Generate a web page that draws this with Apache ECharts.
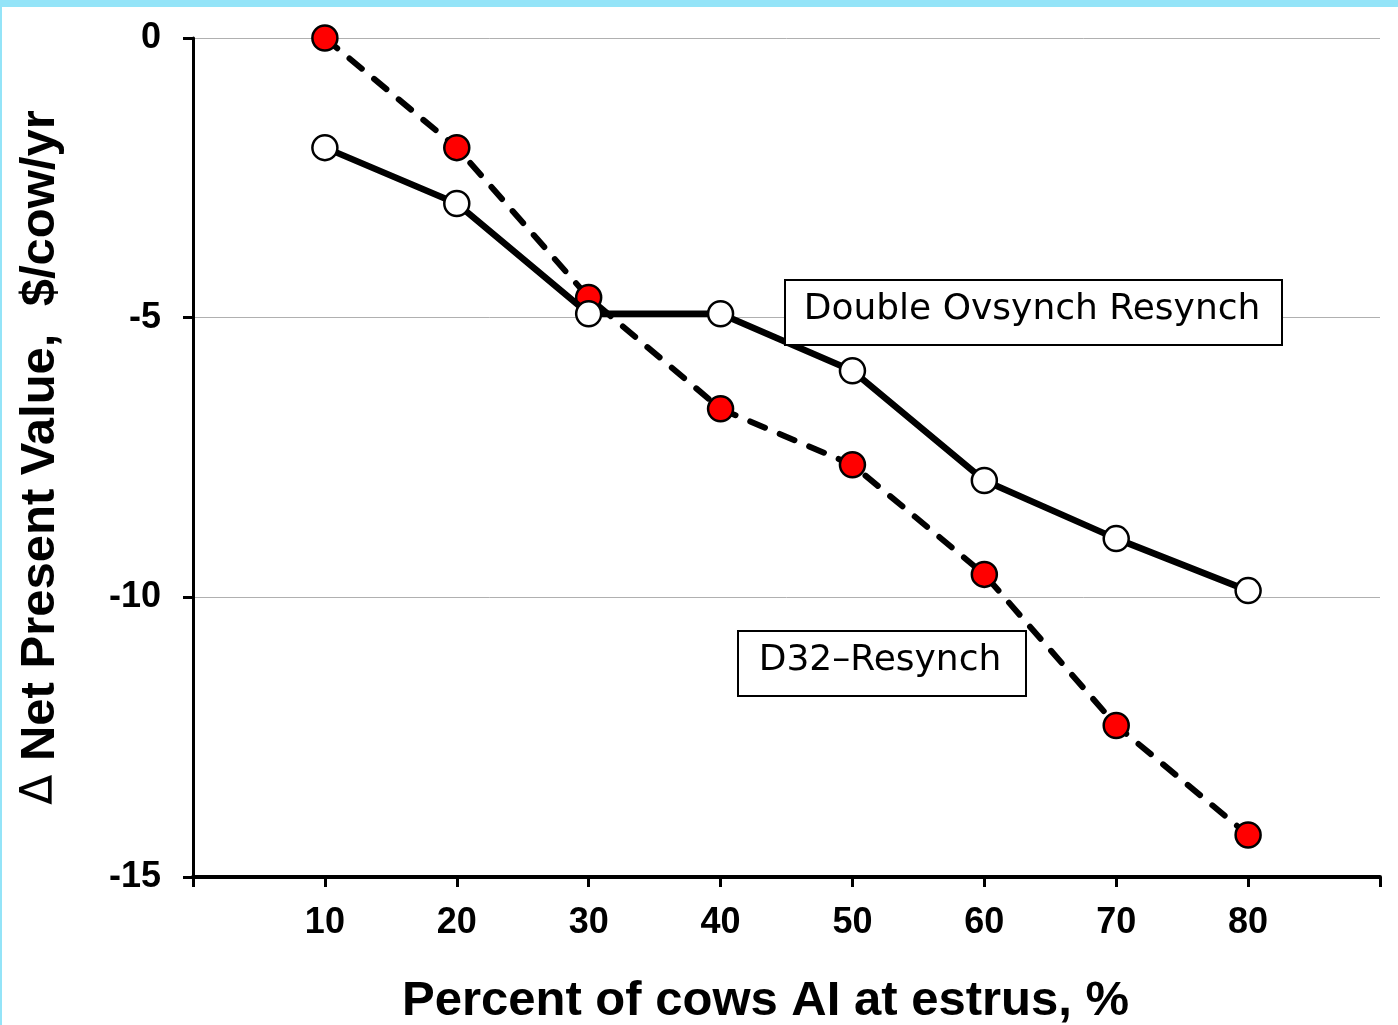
<!DOCTYPE html>
<html>
<head>
<meta charset="utf-8">
<script src="https://cdn.jsdelivr.net/npm/echarts@6/dist/echarts.min.js"></script>
<style>
html,body{margin:0;padding:0;background:#fff;}
#c{width:1398px;height:1025px;}
</style>
</head>
<body>
<div id="c"></div>
<script>
const xValues = [10, 20, 30, 40, 50, 60, 70, 80];
const doubleOvsynch = [-1.96, -2.96, -4.93, -4.93, -5.95, -7.91, -8.95, -9.88];
const d32Resynch = [0, -1.96, -4.64, -6.63, -7.63, -9.59, -12.29, -14.25];
const yTicks = [0, -5, -10, -15];

const chart = echarts.init(document.getElementById('c'));
const pair = (ys) => xValues.map((x, i) => [x, ys[i]]);
const axisFont = '"Liberation Sans", Arial, sans-serif';
const boxFont = '36px "DejaVu Sans", sans-serif';

chart.setOption({
  animation: false,
  backgroundColor: '#ffffff',
  grid: {left: 193, right: 18, top: 38, bottom: 148, containLabel: false, outerBoundsMode: 'none'},
  xAxis: {
    type: 'value', min: 0, max: 90, interval: 10,
    name: 'Percent of cows AI at estrus, %',
    nameLocation: 'middle', nameGap: 100,
    nameTextStyle: {fontFamily: axisFont, fontWeight: 'bold', fontSize: 49, color: '#000', padding: [0, 42, 0, 0]},
    axisLine: {onZero: false, lineStyle: {color: '#000', width: 4}},
    axisTick: {show: true, length: 10, lineStyle: {color: '#000', width: 3}},
    axisLabel: {
      margin: 28, fontFamily: axisFont, fontWeight: 'bold', fontSize: 36, color: '#000',
      formatter: (v) => xValues.indexOf(v) >= 0 ? String(v) : ''
    },
    splitLine: {show: false}
  },
  yAxis: {
    type: 'value', min: -15, max: 0, interval: 5,
    name: '{d|\u0394} Net Present Value,  $/cow/yr',
    nameLocation: 'middle', nameGap: 128,
    nameTextStyle: {
      fontFamily: axisFont, fontWeight: 'bold', fontSize: 49, color: '#000',
      rich: {d: {fontFamily: '"DejaVu Sans", sans-serif', fontWeight: 'normal', fontSize: 44, color: '#000'}}
    },
    axisLine: {show: true, onZero: false, lineStyle: {color: '#000', width: 3}},
    axisTick: {show: true, length: 10, lineStyle: {color: '#000', width: 3}},
    axisLabel: {
      margin: 32, fontFamily: axisFont, fontWeight: 'bold', fontSize: 36, color: '#000',
      formatter: (v) => yTicks.indexOf(v) >= 0 ? String(v) : ''
    },
    splitLine: {show: true, lineStyle: {color: '#b0b0b0', width: 1}}
  },
  series: [
    {
      name: 'D32-Resynch', type: 'line', data: pair(d32Resynch),
      symbol: 'circle', symbolSize: 25,
      lineStyle: {color: '#000', width: 6, type: [16, 16], cap: 'round'},
      itemStyle: {color: '#ff0000', borderColor: '#000', borderWidth: 2.5},
      z: 2
    },
    {
      name: 'Double Ovsynch Resynch', type: 'line', data: pair(doubleOvsynch),
      symbol: 'circle', symbolSize: 25,
      lineStyle: {color: '#000', width: 6.5},
      itemStyle: {color: '#ffffff', borderColor: '#000', borderWidth: 2.5},
      z: 3
    }
  ],
  graphic: [
    {type: 'rect', left: 0, top: 0, shape: {width: 1398, height: 7}, style: {fill: '#94e4f8'}, z: 10},
    {type: 'rect', left: 0, top: 0, shape: {width: 2, height: 1025}, style: {fill: '#94e4f8'}, z: 10},
    {type: 'rect', left: 784, top: 279, shape: {width: 497, height: 65}, style: {fill: '#fff', stroke: '#000', lineWidth: 2}, z: 10},
    {type: 'text', z: 11,
      style: {text: 'Double Ovsynch Resynch', x: 1032, y: 310, align: 'center', verticalAlign: 'middle', font: boxFont, fill: '#000'}},
    {type: 'rect', left: 737, top: 630, shape: {width: 288, height: 65}, style: {fill: '#fff', stroke: '#000', lineWidth: 2}, z: 10},
    {type: 'text', z: 11,
      style: {text: 'D32\u2013Resynch', x: 880, y: 661, align: 'center', verticalAlign: 'middle', font: boxFont, fill: '#000'}}
  ]
});
</script>
</body>
</html>
